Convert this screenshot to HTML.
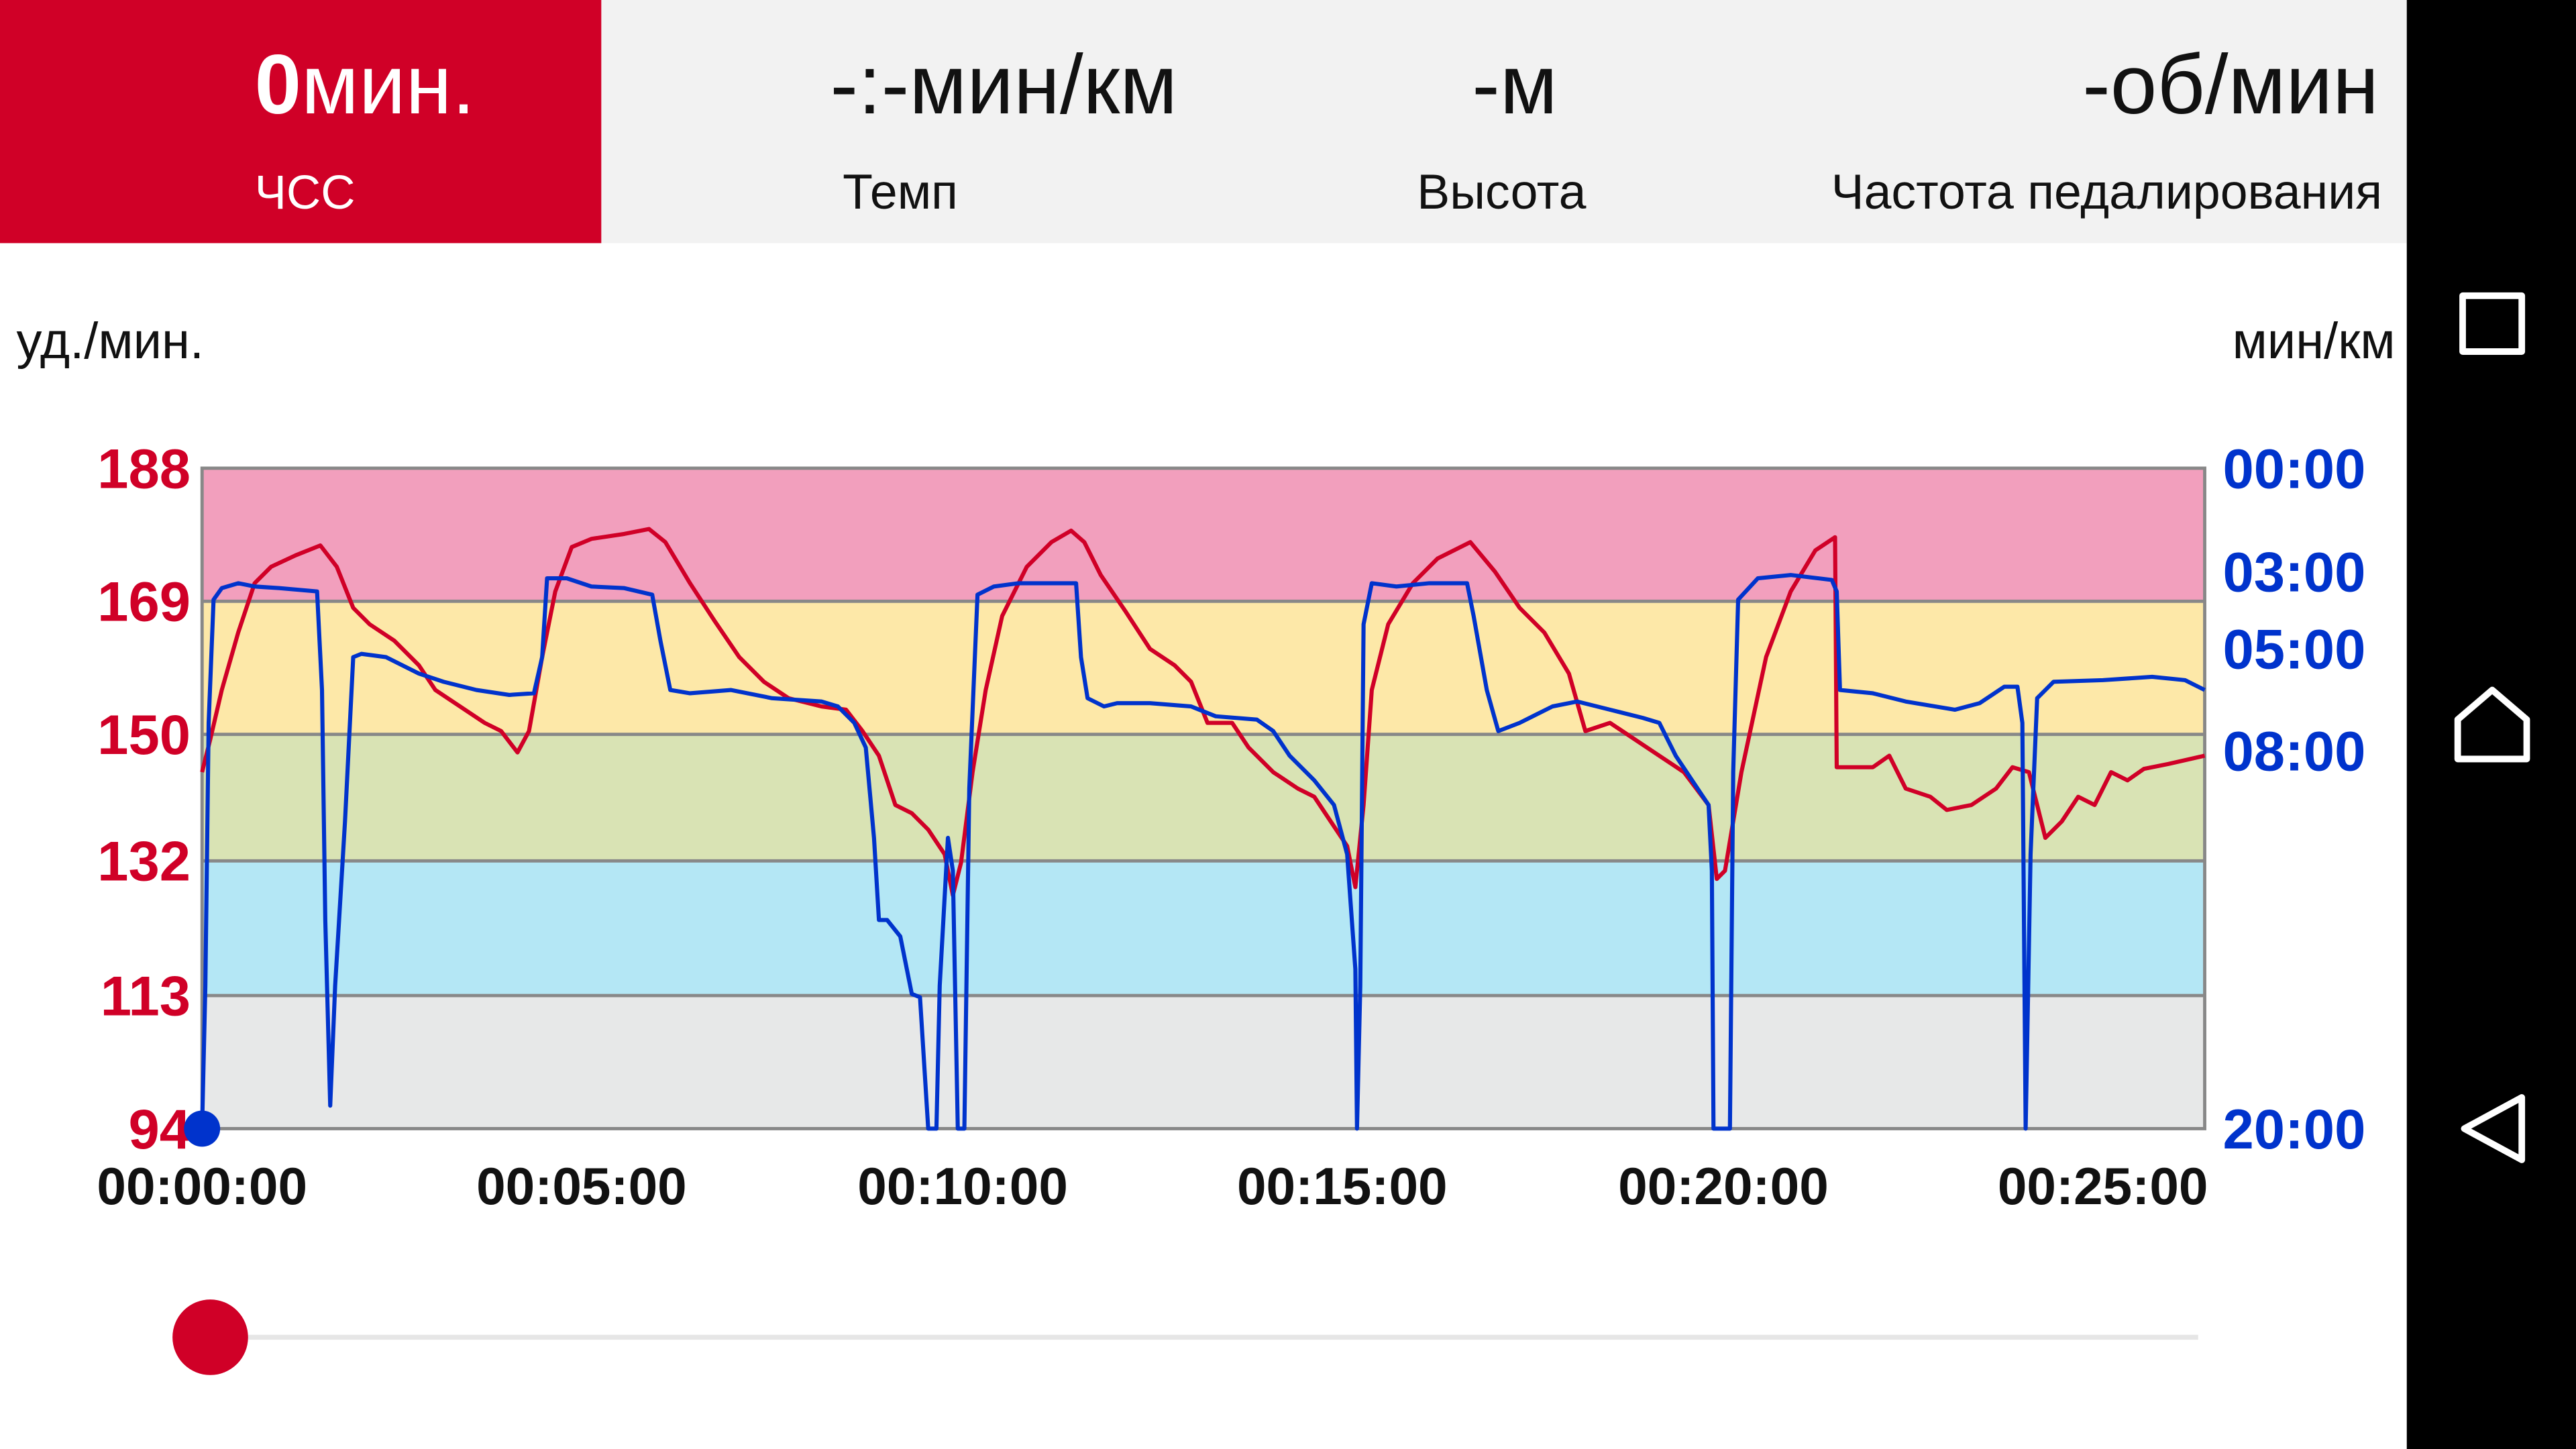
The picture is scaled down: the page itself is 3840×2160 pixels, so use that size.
<!DOCTYPE html>
<html><head><meta charset="utf-8"><style>
html,body{margin:0;padding:0;background:#fff;}
svg{display:block;}
text{font-family:"Liberation Sans","DejaVu Sans",sans-serif;}
</style></head><body>
<svg width="3840" height="2160" viewBox="0 0 1568 882" preserveAspectRatio="none" xmlns="http://www.w3.org/2000/svg">
<rect x="0" y="0" width="1568" height="882" fill="#fff"/>
<rect x="0" y="0" width="1465" height="148" fill="#f2f2f2"/>
<rect x="0" y="0" width="366" height="148" fill="#d00027"/>
<rect x="1465" y="0" width="103" height="882" fill="#000"/>
<text x="155" y="69" font-size="51" font-weight="bold" fill="#fff">0<tspan font-weight="normal">мин.</tspan></text>
<text x="155" y="127" font-size="29" fill="#fff">ЧСС</text>
<text x="611" y="69" font-size="51" text-anchor="middle" fill="#111">-:-мин/км</text>
<text x="922" y="69" font-size="51" text-anchor="middle" fill="#111">-м</text>
<text x="1448" y="69" font-size="51" text-anchor="end" fill="#111">-об/мин</text>
<text x="548" y="127" font-size="30" text-anchor="middle" fill="#111">Темп</text>
<text x="914" y="127" font-size="30" text-anchor="middle" fill="#111">Высота</text>
<text x="1450" y="127" font-size="30" text-anchor="end" fill="#111">Частота педалирования</text>
<text x="10" y="218" font-size="31" fill="#111">уд./мин.</text>
<text x="1458" y="218" font-size="31" text-anchor="end" fill="#111">мин/км</text>
<!-- bands -->
<rect x="123" y="285" width="1219" height="81" fill="#f29fbd"/>
<rect x="123" y="366" width="1219" height="81" fill="#fde8a8"/>
<rect x="123" y="447" width="1219" height="77" fill="#d9e3b4"/>
<rect x="123" y="524" width="1219" height="82" fill="#b4e7f5"/>
<rect x="123" y="606" width="1219" height="81" fill="#e7e8e8"/>
<g stroke="#888" stroke-width="2" fill="none">
<line x1="123" y1="366" x2="1342" y2="366"/><line x1="123" y1="447" x2="1342" y2="447"/>
<line x1="123" y1="524" x2="1342" y2="524"/><line x1="123" y1="606" x2="1342" y2="606"/>
<rect x="123" y="285" width="1219" height="402"/>
</g>
<g font-size="34" font-weight="bold" fill="#d00027" text-anchor="end">
<text x="116" y="297">188</text><text x="116" y="378">169</text><text x="116" y="459">150</text>
<text x="116" y="536">132</text><text x="116" y="618">113</text><text x="116" y="699">94</text>
</g>
<g font-size="34" font-weight="bold" fill="#0033cc">
<text x="1353" y="297">00:00</text><text x="1353" y="360">03:00</text><text x="1353" y="407">05:00</text>
<text x="1353" y="469">08:00</text><text x="1353" y="699">20:00</text>
</g>
<g font-size="32" font-weight="bold" fill="#111" text-anchor="middle">
<text x="123" y="733">00:00:00</text><text x="354" y="733">00:05:00</text><text x="586" y="733">00:10:00</text>
<text x="817" y="733">00:15:00</text><text x="1049" y="733">00:20:00</text><text x="1280" y="733">00:25:00</text>
</g>
<polyline fill="none" stroke="#d00027" stroke-width="2.5" stroke-linejoin="round" points="123,470 128,450 135,420 145,385 155,355 165,345 180,338 195,332 205,345 215,370 225,380 240,390 255,405 265,420 280,430 295,440 305,445 315,458 322,445 330,400 338,360 348,333 360,328 380,325 395,322 405,330 420,355 435,378 450,400 465,415 480,425 500,430 515,432 525,445 535,460 545,490 555,495 565,505 575,520 580,545 585,525 592,470 600,420 610,375 625,345 640,330 652,323 660,330 670,350 685,372 700,395 715,405 725,415 735,440 750,440 760,455 775,470 790,480 800,485 810,500 820,515 825,540 830,490 835,420 845,380 860,355 875,340 895,330 910,348 925,370 940,385 955,410 965,445 980,440 995,450 1010,460 1025,470 1040,490 1045,535 1050,530 1060,470 1075,400 1090,360 1105,335 1117,327 1118,467 1140,467 1150,460 1160,480 1175,485 1185,493 1200,490 1215,480 1225,467 1235,470 1245,510 1255,500 1265,485 1275,490 1285,470 1295,475 1305,468 1320,465 1342,460"/>
<polyline fill="none" stroke="#0033cc" stroke-width="2.5" stroke-linejoin="round" points="123,687 125,600 127,440 130,365 135,358 145,355 155,357 170,358 193,360 196,420 198,560 201,673 204,600 210,500 215,400 220,398 235,400 255,410 270,415 290,420 310,423 325,422 330,400 333,352 345,352 360,357 380,358 397,362 402,390 408,420 420,422 445,420 470,425 500,427 510,430 520,440 527,455 532,510 535,560 540,560 548,570 555,605 560,607 565,687 570,687 572,600 577,510 580,530 583,687 587,687 590,480 595,362 605,357 620,355 655,355 658,400 662,425 672,430 680,428 700,428 725,430 740,436 765,438 775,445 785,460 800,475 812,490 820,520 825,590 826,687 828,600 830,380 835,355 850,357 870,355 893,355 897,375 905,420 912,445 925,440 945,430 960,427 980,432 1000,437 1010,440 1020,460 1030,475 1040,490 1042,530 1043,687 1053,687 1055,470 1058,365 1070,352 1090,350 1115,353 1118,360 1120,420 1140,422 1160,427 1190,432 1205,428 1220,418 1228,418 1231,440 1233,687 1236,520 1240,425 1250,415 1280,414 1310,412 1330,414 1342,420"/>
<circle cx="123" cy="687" r="11" fill="#0033cc"/>
<line x1="150" y1="814" x2="1338" y2="814" stroke="#e6e6e6" stroke-width="3"/>
<circle cx="128" cy="814" r="23" fill="#d00027"/>
<g stroke="#fff" stroke-width="4" fill="none" stroke-linejoin="round">
<rect x="1499" y="180" width="36" height="34"/>
<path d="M1496,462 L1496,438 L1517,420 L1538,438 L1538,462 Z"/>
<path d="M1535,668 L1535,706 L1500,687 Z"/>
</g>
</svg>
</body></html>
